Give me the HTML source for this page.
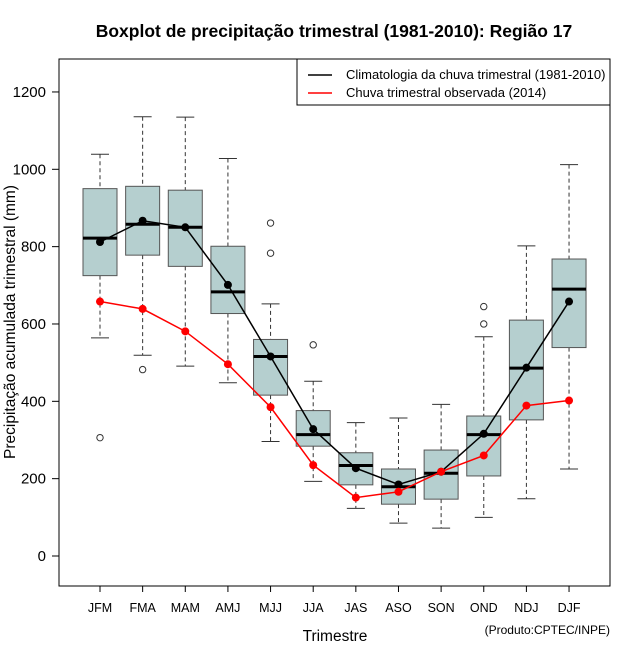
<!DOCTYPE html>
<html><head><meta charset="utf-8"><style>
body{margin:0;background:#fff;}
svg{display:block;font-family:"Liberation Sans",Arial,sans-serif;}
</style></head><body>
<svg id="chart" width="640" height="660"></svg>
<script>
const categories=["JFM","FMA","MAM","AMJ","MJJ","JJA","JAS","ASO","SON","OND","NDJ","DJF"];
const whiskerLow=[564,519,491,448,296,193,123,85,72,100,148,225];
const q1=[725,778,749,627,416,284,184,134,147,207,352,539];
const median=[822,858,850,683,516,314,234,179,214,314,486,690];
const q3=[950,956,946,801,560,376,267,225,274,362,610,768];
const whiskerHigh=[1039,1136,1135,1028,652,452,345,357,392,567,802,1012];
const outliers=[[306],[482],[],[],[861,783],[546],[],[],[],[645,600],[],[]];
const climatology=[812,867,850,701,516,328,227,185,218,316,487,658];
const observed2014=[658,639,581,496,385,235,151,166,218,260,389,402];
const yTicks=[0,200,400,600,800,1000,1200];

const NS="http://www.w3.org/2000/svg";
const svg=document.getElementById('chart');
const X=i=>100+i*42.64;
const Y=v=>556-v*0.3867;
function mk(tag,attrs,parent){const e=document.createElementNS(NS,tag);for(const k in attrs)e.setAttribute(k,attrs[k]);(parent||svg).appendChild(e);return e;}

let t=mk('text',{x:334,y:37,'text-anchor':'middle','font-size':17.5,'font-weight':'bold'});t.textContent='Boxplot de precipitação trimestral (1981-2010): Região 17';



let frame=mk('rect',{x:59,y:59,width:551,height:527,fill:'none',stroke:'#000','stroke-width':1});



yTicks.forEach(v=>{
  const l=mk('line',{x1:52,x2:59,y1:Y(v),y2:Y(v),stroke:'#000'});
  
  
  const tx=mk('text',{x:46,y:Y(v)+5,'text-anchor':'end','font-size':15});tx.textContent=v;
  
  
});
let yl=mk('text',{transform:'translate(15,322) rotate(-90)','text-anchor':'middle','font-size':15.5});yl.textContent='Precipitação acumulada trimestral (mm)';



categories.forEach((c,i)=>{
  const x=X(i);
  const g=mk('g',{});
  
  
  mk('line',{x1:x,x2:x,y1:Y(whiskerHigh[i]),y2:Y(q3[i]),stroke:'#333','stroke-dasharray':'4,3'},g);
  mk('line',{x1:x,x2:x,y1:Y(q1[i]),y2:Y(whiskerLow[i]),stroke:'#333','stroke-dasharray':'4,3'},g);
  mk('line',{x1:x-9,x2:x+9,y1:Y(whiskerHigh[i]),y2:Y(whiskerHigh[i]),stroke:'#333'},g);
  mk('line',{x1:x-9,x2:x+9,y1:Y(whiskerLow[i]),y2:Y(whiskerLow[i]),stroke:'#333'},g);
  mk('rect',{x:x-17,y:Y(q3[i]),width:34,height:Y(q1[i])-Y(q3[i]),fill:'#b5cfcf',stroke:'#555','stroke-width':1},g);
  mk('line',{x1:x-17,x2:x+17,y1:Y(median[i]),y2:Y(median[i]),stroke:'#000','stroke-width':3},g);
  outliers[i].forEach(o=>mk('circle',{cx:x,cy:Y(o),r:3.2,fill:'none',stroke:'#333'},g));
  const tl=mk('line',{x1:x,x2:x,y1:586,y2:592,stroke:'#000'});
  
  
  const lb=mk('text',{x:x,y:612,'text-anchor':'middle','font-size':12.5});lb.textContent=c;
  
  
});

function series(vals,color,name){
  const g=mk('g',{});
  
  
  mk('polyline',{points:vals.map((v,i)=>X(i)+','+Y(v)).join(' '),fill:'none',stroke:color,'stroke-width':1.5},g);
  vals.forEach((v,i)=>mk('circle',{cx:X(i),cy:Y(v),r:4,fill:color},g));
}
series(climatology,'#000','climatology-line');
series(observed2014,'#ff0000','observed-2014-line');

let xt=mk('text',{x:335,y:641,'text-anchor':'middle','font-size':15.5});xt.textContent='Trimestre';


let pr=mk('text',{x:610,y:634,'text-anchor':'end','font-size':12});pr.textContent='(Produto:CPTEC/INPE)';



const lg=mk('g',{});


mk('rect',{x:297,y:59,width:313,height:46,fill:'#fff',stroke:'#000'},lg);
mk('line',{x1:308,x2:332,y1:75,y2:75,stroke:'#000','stroke-width':1.5},lg);
mk('line',{x1:308,x2:332,y1:93,y2:93,stroke:'#ff0000','stroke-width':1.5},lg);
let l1=mk('text',{x:346,y:79,'font-size':13},lg);l1.textContent='Climatologia da chuva trimestral (1981-2010)';


let l2=mk('text',{x:346,y:97,'font-size':13},lg);l2.textContent='Chuva trimestral observada (2014)';


</script>
</body></html>
